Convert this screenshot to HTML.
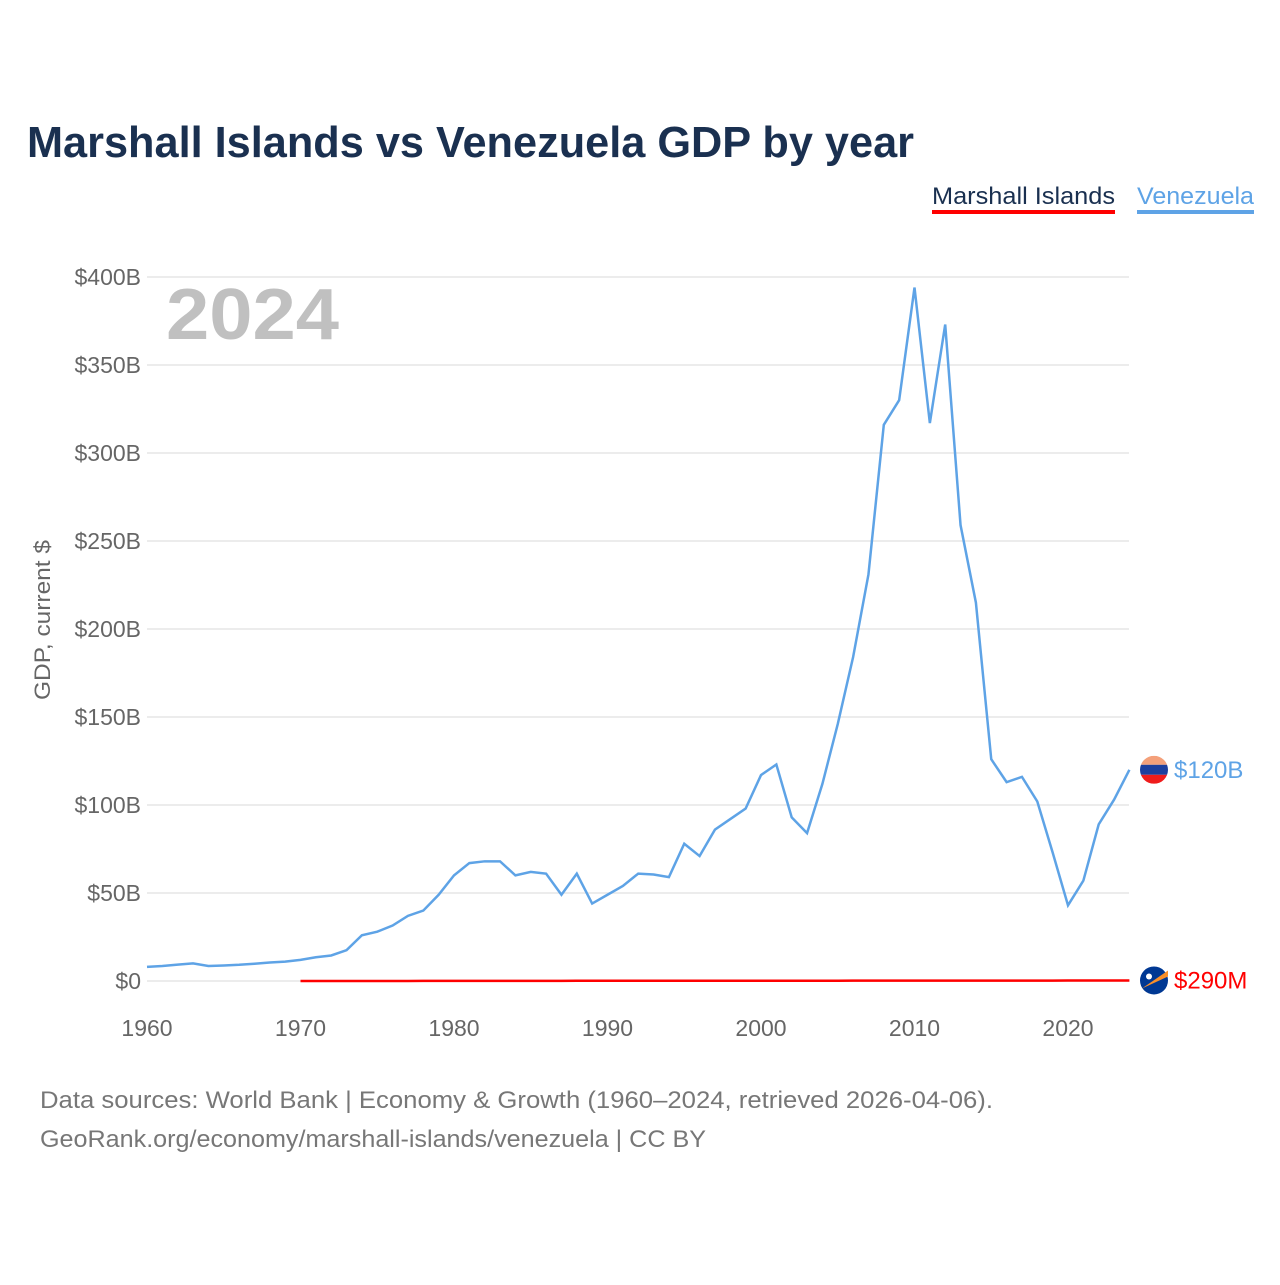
<!DOCTYPE html>
<html><head><meta charset="utf-8"><style>
body{margin:0;background:#fff;font-family:"Liberation Sans",sans-serif}
svg text{font-family:"Liberation Sans",sans-serif}
</style></head><body>
<svg width="1280" height="1280" xmlns="http://www.w3.org/2000/svg">
<defs><clipPath id="vc"><circle cx="1154" cy="770" r="14"/></clipPath></defs>
<rect width="1280" height="1280" fill="#fff"/>
<text x="27" y="157" font-size="44" font-weight="bold" fill="#1a3050" textLength="887" lengthAdjust="spacingAndGlyphs">Marshall Islands vs Venezuela GDP by year</text>
<g>
<text x="932" y="204" font-size="24" fill="#1a3050" textLength="183" lengthAdjust="spacingAndGlyphs">Marshall Islands</text>
<rect x="932" y="210" width="183" height="4" fill="#ff0000"/>
<text x="1137" y="204" font-size="24" fill="#5ea3e6" textLength="117" lengthAdjust="spacingAndGlyphs">Venezuela</text>
<rect x="1137" y="210" width="117" height="4" fill="#5ea3e6"/>
</g>
<text x="166" y="339" font-size="72" font-weight="bold" fill="#c0c0c0" textLength="173" lengthAdjust="spacingAndGlyphs">2024</text>
<text transform="translate(50,620) rotate(-90)" text-anchor="middle" font-size="22" fill="#666" textLength="160" lengthAdjust="spacingAndGlyphs">GDP, current $</text>
<g id="grid"></g><g id="lines"></g><g id="labels"></g>
<text x="40" y="1108" font-size="24" fill="#777" textLength="953" lengthAdjust="spacingAndGlyphs">Data sources: World Bank | Economy &amp; Growth (1960–2024, retrieved 2026-04-06).</text>
<text x="40" y="1147" font-size="24" fill="#777" textLength="666" lengthAdjust="spacingAndGlyphs">GeoRank.org/economy/marshall-islands/venezuela | CC BY</text>
</svg>
<script>
const yTicks=[0,50,100,150,200,250,300,350,400];
const yTickLabels=["$0","$50B","$100B","$150B","$200B","$250B","$300B","$350B","$400B"];
const xTicks=[1960,1970,1980,1990,2000,2010,2020];
const venYears=[];for(let y=1960;y<=2024;y++)venYears.push(y);
const venValues=[8,8.5,9.3,10,8.5,8.8,9.2,9.8,10.5,11,12,13.5,14.5,17.5,26,28,31.5,37,40,49,60,67,68,68,60,62,61,49,61,44,49,54,61,60.5,59,78,71,86,92,98,117,123,93,84,112,146,184,231,316,330,394,317,373,259,215,126,113,116,102,73,43,57,89,103,120];
const mhlYears=[];for(let y=1970;y<=2024;y++)mhlYears.push(y);
const mhlValues=[0.03,0.03,0.03,0.03,0.03,0.03,0.03,0.03,0.04,0.05,0.06,0.07,0.08,0.08,0.09,0.09,0.09,0.1,0.11,0.12,0.12,0.13,0.14,0.15,0.16,0.17,0.16,0.15,0.15,0.15,0.15,0.15,0.16,0.16,0.17,0.17,0.18,0.18,0.18,0.19,0.19,0.19,0.2,0.21,0.22,0.22,0.22,0.23,0.23,0.24,0.25,0.25,0.27,0.28,0.29];
const X=y=>147+(y-1960)*(1068-147)/60;
const Y=v=>981-v*(981-277)/400;
const NS="http://www.w3.org/2000/svg";
function mk(t,a,p){const e=document.createElementNS(NS,t);for(const k in a)e.setAttribute(k,a[k]);p.appendChild(e);return e;}
const grid=document.getElementById('grid'),lines=document.getElementById('lines'),labels=document.getElementById('labels');
yTicks.forEach((v,i)=>{
 const l=mk('line',{x1:147,x2:1129,y1:Y(v),y2:Y(v),stroke:'#e6e6e6','stroke-width':1.5},grid);
 
 
 const t=mk('text',{x:141,y:Y(v)+8,'text-anchor':'end','font-size':23,fill:'#666'},grid);t.textContent=yTickLabels[i];
 
 
});
xTicks.forEach(y=>{
 const t=mk('text',{x:X(y),y:1036,'text-anchor':'middle','font-size':23,fill:'#666'},grid);t.textContent=y;
 
 
});
const vp=mk('polyline',{points:venYears.map((y,i)=>X(y)+','+Y(venValues[i])).join(' '),fill:'none',stroke:'#5ea3e6','stroke-width':2.5},lines);


const mp=mk('polyline',{points:mhlYears.map((y,i)=>X(y)+','+Y(mhlValues[i])).join(' '),fill:'none',stroke:'#ff0000','stroke-width':2.5},lines);


const vy=Y(venValues[venValues.length-1]);
const vf=mk('g',{'clip-path':'url(#vc)',transform:`translate(0,${vy-770})`},labels);


mk('rect',{x:1140,y:756,width:28,height:9,fill:'#f4a07a'},vf);
mk('rect',{x:1140,y:765,width:28,height:10,fill:'#1d3f9e'},vf);
mk('rect',{x:1140,y:775,width:28,height:9,fill:'#ef1c1c'},vf);
const vt=mk('text',{x:1174,y:vy+8,'font-size':24,fill:'#5ea3e6'},labels);vt.textContent='$120B';


const my=Y(mhlValues[mhlValues.length-1]);
const mf=mk('g',{},labels);


mk('circle',{cx:1154,cy:my,r:14,fill:'#003893'},mf);
mk('path',{d:`M1142 ${my+8} L1168 ${my-10} L1168 ${my-4} Z`,fill:'#f88f2a'},mf);
mk('circle',{cx:1149,cy:my-4,r:3,fill:'#fff'},mf);
const mt=mk('text',{x:1174,y:my+8,'font-size':24,fill:'#ff0000'},labels);mt.textContent='$290M';


</script>
</body></html>
